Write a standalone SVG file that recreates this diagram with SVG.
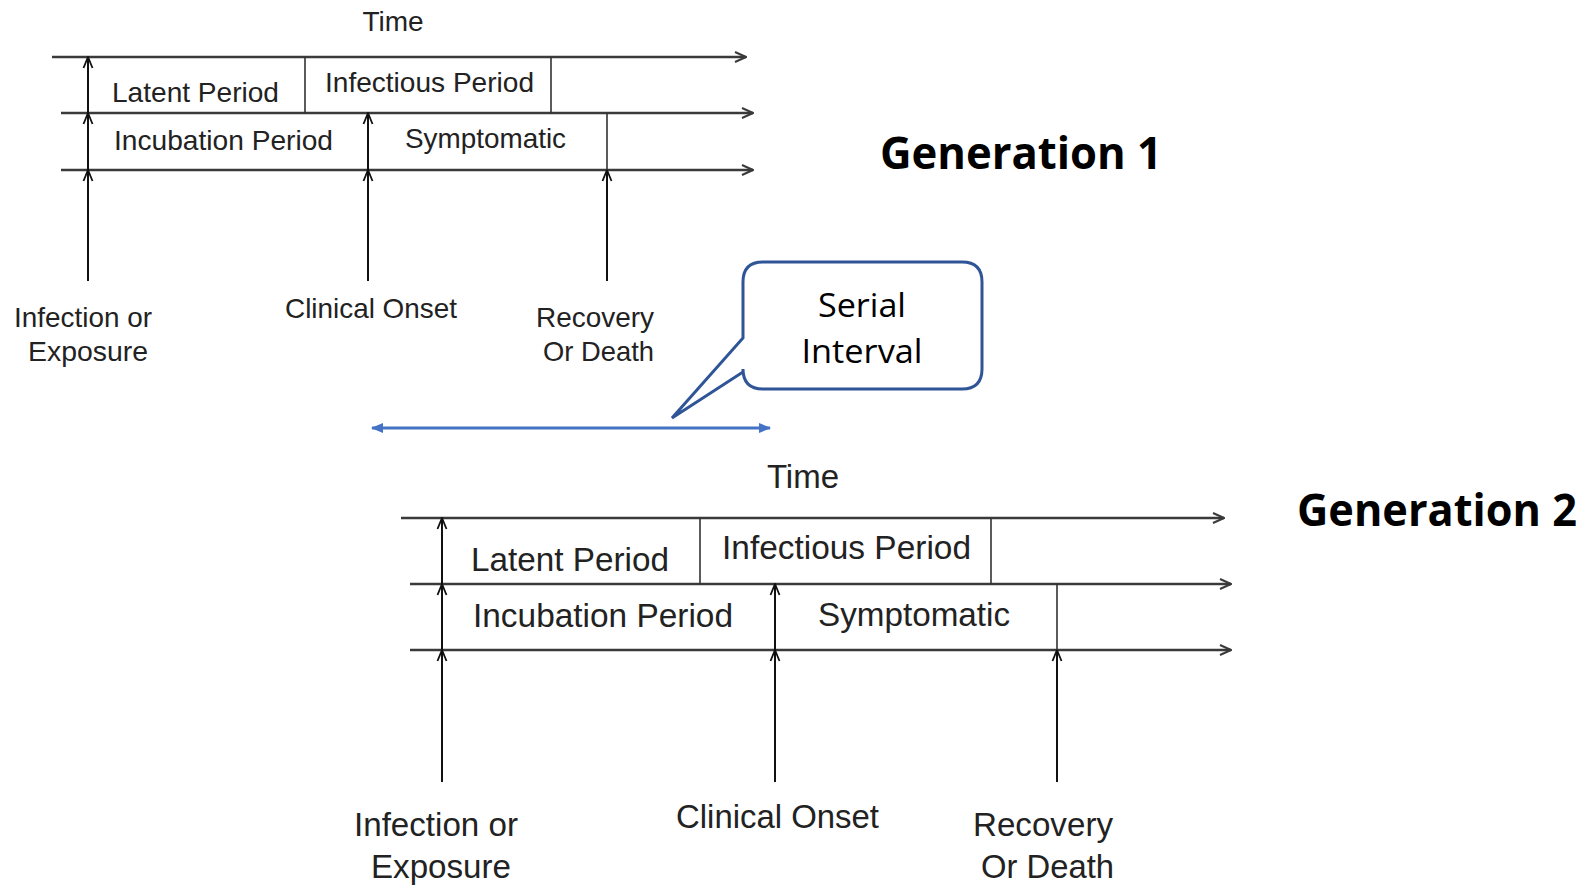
<svg xmlns="http://www.w3.org/2000/svg" width="1591" height="885" viewBox="0 0 1591 885">
<defs>
<style>
.tl{stroke:#3a3a3a;stroke-width:2.6;fill:none}
.vt{stroke:#111;stroke-width:2;fill:none}
.dv{stroke:#333;stroke-width:1.6;fill:none}
.lab1{font-family:"Liberation Sans",Arial,sans-serif;font-size:28px;fill:#222}
.lab2{font-family:"Liberation Sans",Arial,sans-serif;font-size:33px;fill:#222}
.gen{font-family:"Open Sans","Noto Sans",sans-serif;font-weight:bold;font-size:44px;fill:#000}
.ser{font-family:"Open Sans","Noto Sans",sans-serif;font-size:33px;fill:#000}
.blue{stroke:#4472C4;stroke-width:3;fill:none}
</style>
<marker id="hArr" viewBox="0 0 13 12" markerWidth="13" markerHeight="12" refX="12" refY="6" orient="auto" markerUnits="userSpaceOnUse">
<path d="M1,1 L12,6 L1,11" fill="none" stroke="#3a3a3a" stroke-width="2"/>
</marker>
<marker id="vArr" viewBox="0 0 13 12" markerWidth="13" markerHeight="12" refX="12" refY="6" orient="auto" markerUnits="userSpaceOnUse">
<path d="M1,1.5 L12,6 L1,10.5" fill="none" stroke="#111" stroke-width="1.8"/>
</marker>
<marker id="bArr" viewBox="0 0 12 10" markerWidth="12" markerHeight="10" refX="11" refY="5" orient="auto-start-reverse" markerUnits="userSpaceOnUse">
<path d="M0,0 L12,5 L0,10 z" fill="#4472C4"/>
</marker>
</defs>
<rect width="1591" height="885" fill="#fff"/>

<g id="connectors">
<line class="tl" x1="52" y1="57" x2="746" y2="57" marker-end="url(#hArr)"/>
<line class="tl" x1="61" y1="113" x2="753" y2="113" marker-end="url(#hArr)"/>
<line class="tl" x1="61" y1="170" x2="753" y2="170" marker-end="url(#hArr)"/>
<line class="vt" x1="88" y1="281" x2="88" y2="170" marker-end="url(#vArr)"/>
<line class="vt" x1="88" y1="170" x2="88" y2="113" marker-end="url(#vArr)"/>
<line class="vt" x1="88" y1="113" x2="88" y2="57" marker-end="url(#vArr)"/>
<line class="vt" x1="368" y1="281" x2="368" y2="170" marker-end="url(#vArr)"/>
<line class="vt" x1="368" y1="170" x2="368" y2="113" marker-end="url(#vArr)"/>
<line class="vt" x1="607" y1="281" x2="607" y2="170" marker-end="url(#vArr)"/>
<line class="dv" x1="607" y1="170" x2="607" y2="113"/>
<line class="dv" x1="305" y1="57" x2="305" y2="113"/>
<line class="dv" x1="551" y1="57" x2="551" y2="113"/>
<line class="tl" x1="401" y1="518" x2="1224" y2="518" marker-end="url(#hArr)"/>
<line class="tl" x1="410" y1="584" x2="1231" y2="584" marker-end="url(#hArr)"/>
<line class="tl" x1="410" y1="650" x2="1231" y2="650" marker-end="url(#hArr)"/>
<line class="vt" x1="442" y1="782" x2="442" y2="650" marker-end="url(#vArr)"/>
<line class="vt" x1="442" y1="650" x2="442" y2="584" marker-end="url(#vArr)"/>
<line class="vt" x1="442" y1="584" x2="442" y2="518" marker-end="url(#vArr)"/>
<line class="vt" x1="775" y1="782" x2="775" y2="650" marker-end="url(#vArr)"/>
<line class="vt" x1="775" y1="650" x2="775" y2="584" marker-end="url(#vArr)"/>
<line class="vt" x1="1057" y1="782" x2="1057" y2="650" marker-end="url(#vArr)"/>
<line class="dv" x1="1057" y1="650" x2="1057" y2="584"/>
<line class="dv" x1="700" y1="518" x2="700" y2="584"/>
<line class="dv" x1="991" y1="518" x2="991" y2="584"/>
<line class="blue" x1="372" y1="428" x2="770" y2="428" marker-start="url(#bArr)" marker-end="url(#bArr)"/>
</g>

<g id="gen1-labels">
<text class="lab1" x="393" y="31" text-anchor="middle">Time</text>
<text class="lab1" x="112" y="102" textLength="167" lengthAdjust="spacingAndGlyphs">Latent Period</text>
<text class="lab1" x="325" y="92" textLength="209" lengthAdjust="spacingAndGlyphs">Infectious Period</text>
<text class="lab1" x="114" y="150" textLength="219" lengthAdjust="spacingAndGlyphs">Incubation Period</text>
<text class="lab1" x="405" y="148" textLength="161" lengthAdjust="spacingAndGlyphs">Symptomatic</text>
<text class="lab1" x="14" y="327" textLength="138" lengthAdjust="spacingAndGlyphs">Infection or</text>
<text class="lab1" x="28" y="361" textLength="120" lengthAdjust="spacingAndGlyphs">Exposure</text>
<text class="lab1" x="285" y="318" textLength="172" lengthAdjust="spacingAndGlyphs">Clinical Onset</text>
<text class="lab1" x="536" y="327" textLength="118" lengthAdjust="spacingAndGlyphs">Recovery</text>
<text class="lab1" x="543" y="361" textLength="111" lengthAdjust="spacingAndGlyphs">Or Death</text>
</g>

<g id="gen2-labels">
<text class="lab2" x="803" y="488" text-anchor="middle">Time</text>
<text class="lab2" x="471" y="571" textLength="198" lengthAdjust="spacingAndGlyphs">Latent Period</text>
<text class="lab2" x="722" y="559" textLength="249" lengthAdjust="spacingAndGlyphs">Infectious Period</text>
<text class="lab2" x="473" y="627" textLength="260" lengthAdjust="spacingAndGlyphs">Incubation Period</text>
<text class="lab2" x="818" y="626" textLength="192" lengthAdjust="spacingAndGlyphs">Symptomatic</text>
<text class="lab2" x="354" y="836" textLength="164" lengthAdjust="spacingAndGlyphs">Infection or</text>
<text class="lab2" x="371" y="878" textLength="140" lengthAdjust="spacingAndGlyphs">Exposure</text>
<text class="lab2" x="676" y="828" textLength="203" lengthAdjust="spacingAndGlyphs">Clinical Onset</text>
<text class="lab2" x="973" y="836" textLength="140" lengthAdjust="spacingAndGlyphs">Recovery</text>
<text class="lab2" x="981" y="878" textLength="133" lengthAdjust="spacingAndGlyphs">Or Death</text>
</g>

<g id="serial-interval">
<path d="M763,262 L962,262 Q982,262 982,282 L982,369 Q982,389 962,389 L763,389 Q743,389 743,369 L743,372 L672,418 L743,338 L743,282 Q743,262 763,262 Z" fill="#fff" stroke="#2F5597" stroke-width="3" stroke-linejoin="miter"/>
<text class="ser" x="862" y="317" text-anchor="middle" textLength="88" lengthAdjust="spacingAndGlyphs">Serial</text>
<text class="ser" x="862" y="363" text-anchor="middle" textLength="121" lengthAdjust="spacingAndGlyphs">Interval</text>
</g>

<g id="generation-1">
<text class="gen" x="880" y="169" textLength="282" lengthAdjust="spacingAndGlyphs">Generation 1</text>
</g>
<g id="generation-2">
<text class="gen" x="1297" y="526" textLength="280" lengthAdjust="spacingAndGlyphs">Generation 2</text>
</g>
</svg>
